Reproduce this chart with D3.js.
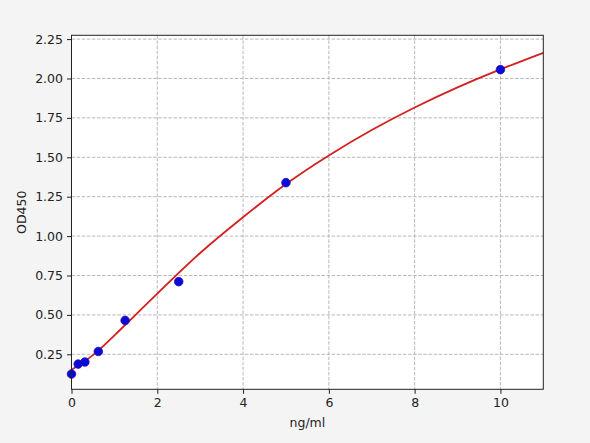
<!DOCTYPE html>
<html>
<head>
<meta charset="utf-8">
<script src="https://cdn.jsdelivr.net/npm/d3@7"></script>
<style>
  html, body { margin: 0; padding: 0; background: #f4f4f4; }
  svg { display: block; font-family: "DejaVu Sans", sans-serif; }
</style>
</head>
<body>
<svg id="chart" width="590" height="443"></svg>
<script>
// 標準曲線の測定点
const concentrations = [0, 0.156, 0.312, 0.625, 1.25, 2.5, 5, 10];
const odValues = [0.125, 0.188, 0.201, 0.268, 0.465, 0.711, 1.339, 2.056];

// フィット曲線
const fitX = [0, 0.5, 1, 1.5, 2, 3, 4, 5, 6, 7, 8, 9, 10, 11];
const fitY = [0.152, 0.245, 0.37, 0.502, 0.635, 0.893, 1.12, 1.33, 1.512, 1.673, 1.816, 1.944, 2.058, 2.163];

// 目盛り
const xTicks = [0, 2, 4, 6, 8, 10];
const yTicks = [0.25, 0.50, 0.75, 1.00, 1.25, 1.50, 1.75, 2.00, 2.25];

const svg = d3.select('#chart');
const margin = { left: 71.5, right: 543.3, top: 35.3, bottom: 389.3 };

const x = d3.scaleLinear().domain([0, 11]).range([margin.left, margin.right]);
const y = d3.scaleLinear().domain([0.028, 2.274]).range([margin.bottom, margin.top]);

// プロット領域の背景
svg.append('rect')
    .attr('x', margin.left).attr('y', margin.top)
    .attr('width', margin.right - margin.left)
    .attr('height', margin.bottom - margin.top)
    .attr('fill', '#fff');

// グリッド線
const grid = svg.append('g')
    .attr('stroke', '#b0b0b0')
    .attr('stroke-width', 0.9)
    .attr('stroke-dasharray', '3.5,1.6');
grid.selectAll('.gx').data(xTicks).enter().append('line')
    .attr('x1', d => x(d)).attr('x2', d => x(d))
    .attr('y1', margin.top).attr('y2', margin.bottom);
grid.selectAll('.gy').data(yTicks).enter().append('line')
    .attr('y1', d => y(d)).attr('y2', d => y(d))
    .attr('x1', margin.left).attr('x2', margin.right);

// 軸
const xAxis = svg.append('g')
    .attr('transform', `translate(0,${margin.bottom})`)
    .call(d3.axisBottom(x).tickValues(xTicks).tickFormat(d3.format('d')).tickSize(4.5).tickPadding(4));
const yAxis = svg.append('g')
    .attr('transform', `translate(${margin.left},0)`)
    .call(d3.axisLeft(y).tickValues(yTicks).tickFormat(d3.format('.2f')).tickSize(4.5).tickPadding(4));

[xAxis, yAxis].forEach(a => {
    a.select('.domain').remove();
    a.selectAll('line').attr('stroke', '#222').attr('stroke-width', 1);
    a.selectAll('text').attr('fill', '#222').style('font-size', '12.5px')
        .style('font-family', '"DejaVu Sans", sans-serif');
});

// フィット曲線
const fitData = fitX.map((d, i) => [d, fitY[i]]);
svg.append('path')
    .datum(fitData)
    .attr('fill', 'none')
    .attr('stroke', '#d42020')
    .attr('stroke-width', 1.8)
    .attr('d', d3.line().x(d => x(d[0])).y(d => y(d[1])).curve(d3.curveNatural));

// 測定点
svg.append('g')
    .selectAll('circle')
    .data(concentrations.map((d, i) => [d, odValues[i]]))
    .enter().append('circle')
    .attr('cx', d => x(d[0]))
    .attr('cy', d => y(d[1]))
    .attr('r', 4.3)
    .attr('fill', '#0a0ad8')
    .attr('stroke', '#2a10b0')
    .attr('stroke-width', 0.8);

// 枠線
svg.append('rect')
    .attr('x', margin.left).attr('y', margin.top)
    .attr('width', margin.right - margin.left)
    .attr('height', margin.bottom - margin.top)
    .attr('fill', 'none')
    .attr('stroke', '#222')
    .attr('stroke-width', 1);

// 軸ラベル
svg.append('text')
    .attr('x', (margin.left + margin.right) / 2)
    .attr('y', 427)
    .attr('text-anchor', 'middle')
    .style('font-size', '12.5px')
    .attr('fill', '#222')
    .text('ng/ml');
svg.append('text')
    .attr('transform', `translate(26,${(margin.top + margin.bottom) / 2}) rotate(-90)`)
    .attr('text-anchor', 'middle')
    .style('font-size', '12.5px')
    .attr('fill', '#222')
    .text('OD450');
</script>
</body>
</html>
